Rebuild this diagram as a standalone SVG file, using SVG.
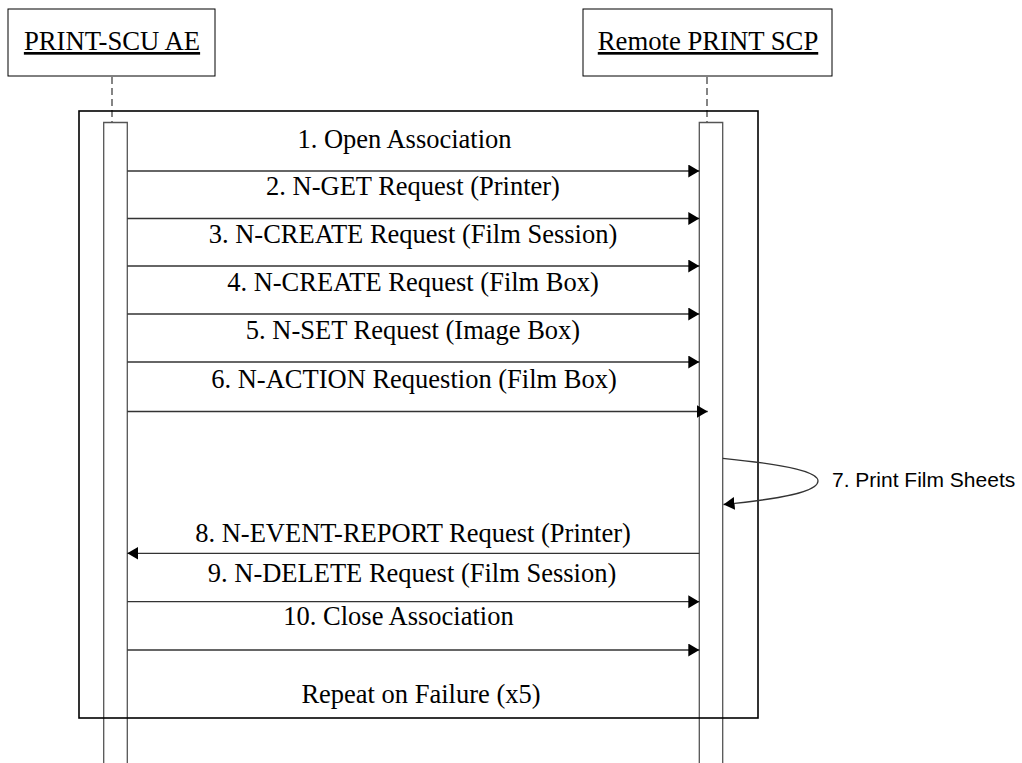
<svg xmlns="http://www.w3.org/2000/svg" width="1022" height="763" viewBox="0 0 1022 763">
<style>
.hdr{fill:#fff;stroke:#000;stroke-width:1}
.ht{font-family:"Liberation Serif","Times New Roman",serif;font-size:26.7px;text-anchor:middle;text-decoration:underline;fill:#000}
.lbl{font-family:"Liberation Serif","Times New Roman",serif;font-size:26.5px;text-anchor:middle;fill:#000}
.note{font-family:"Liberation Sans",Arial,sans-serif;font-size:21px;fill:#000}
.life{stroke:#444;stroke-width:1.3;stroke-dasharray:7,4;fill:none}
.bar{stroke:#555;stroke-width:1.3;fill:none}
.msg{stroke:#333;stroke-width:1.3;fill:none;marker-end:url(#ah)}
.frame{fill:none;stroke:#000;stroke-width:1.6}
</style>
<defs>
<marker id="ah" markerUnits="userSpaceOnUse" markerWidth="12" markerHeight="14" refX="11" refY="6.5" orient="auto">
<path d="M0,0 L11,6.5 L0,13 z" fill="#000"/>
</marker>
</defs>
<rect width="1022" height="763" fill="#fff"/>
<g id="scu">
<rect class="hdr" x="8" y="9" width="207" height="67"/>
<text class="ht" x="112" y="50">PRINT-SCU AE</text>
<line class="life" x1="112" y1="77" x2="112" y2="122"/>
<path class="bar" d="M103.7,763 V122.5 H127.3 V763"/>
</g>
<g id="scp">
<rect class="hdr" x="583" y="9" width="249" height="67"/>
<text class="ht" x="708" y="50">Remote PRINT SCP</text>
<line class="life" x1="707" y1="77" x2="707" y2="122"/>
<path class="bar" d="M699.3,763 V122.5 H722.7 V763"/>
</g>
<g id="frame">
<rect class="frame" x="79" y="111" width="679" height="607"/>
<text class="lbl" x="421" y="703">Repeat on Failure (x5)</text>
</g>
<g id="connectors">
<line class="msg" x1="127.3" y1="171" x2="699.3" y2="171"/>
<line class="msg" x1="127.3" y1="218.5" x2="699.3" y2="218.5"/>
<line class="msg" x1="127.3" y1="266" x2="699.3" y2="266"/>
<line class="msg" x1="127.3" y1="314" x2="699.3" y2="314"/>
<line class="msg" x1="127.3" y1="362" x2="699.3" y2="362"/>
<line class="msg" x1="127.3" y1="411.5" x2="707.7" y2="411.5"/>
<path class="msg" d="M722.7,458.3 C790,465 818,472 818,481 C818,492 780,499 723.5,504.5"/>
<line class="msg" x1="699.3" y1="553.3" x2="127.3" y2="553.3"/>
<line class="msg" x1="127.3" y1="601.7" x2="699.3" y2="601.7"/>
<line class="msg" x1="127.3" y1="650" x2="699.3" y2="650"/>
</g>
<g id="labels">
<text class="lbl" x="404.5" y="148">1. Open Association</text>
<text class="lbl" x="413" y="195">2. N-GET Request (Printer)</text>
<text class="lbl" x="413" y="243">3. N-CREATE Request (Film Session)</text>
<text class="lbl" x="413" y="291">4. N-CREATE Request (Film Box)</text>
<text class="lbl" x="413" y="339">5. N-SET Request (Image Box)</text>
<text class="lbl" x="414" y="388">6. N-ACTION Requestion (Film Box)</text>
<text class="note" x="832" y="487">7. Print Film Sheets</text>
<text class="lbl" x="413" y="542">8. N-EVENT-REPORT Request (Printer)</text>
<text class="lbl" x="412" y="582">9. N-DELETE Request (Film Session)</text>
<text class="lbl" x="398.5" y="625">10. Close Association</text>
</g>
</svg>
